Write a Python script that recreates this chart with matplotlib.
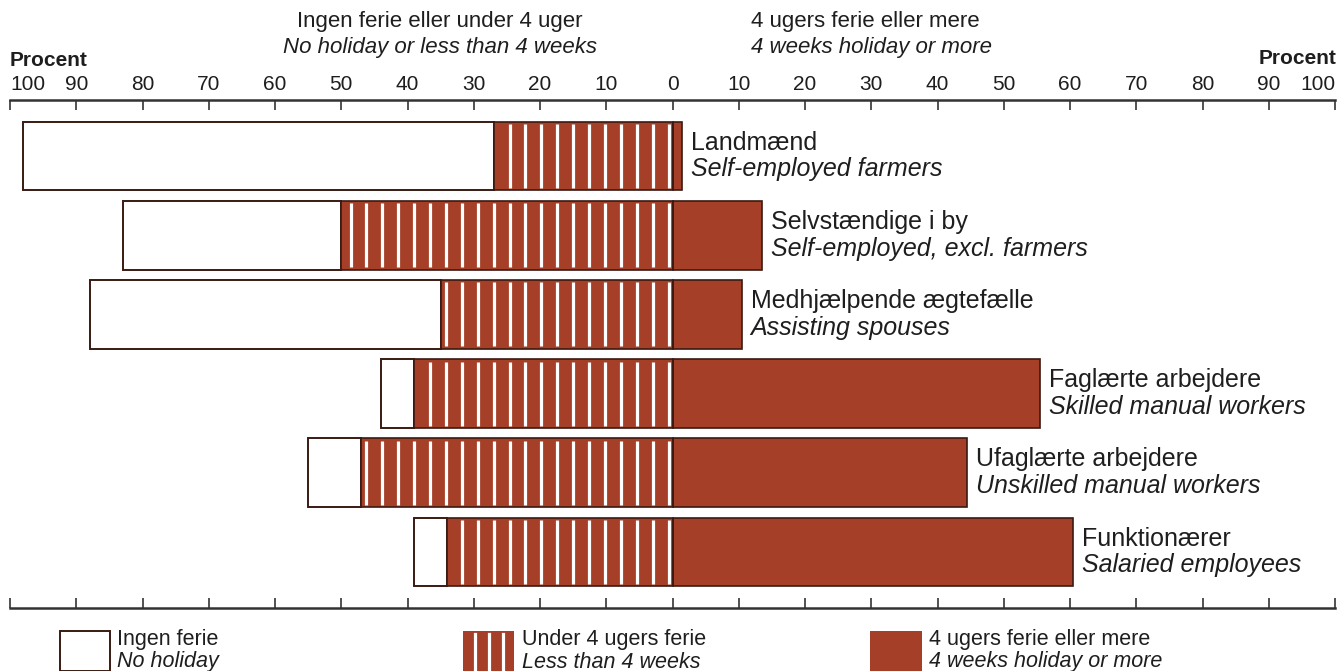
import numpy as np
import matplotlib.pyplot as plt
from matplotlib.patches import Rectangle

plt.rcParams['font.family'] = ['Liberation Sans', 'DejaVu Sans']

# Danish and English group names
groups_dk = ['Landmænd', 'Selvstændige i by', 'Medhjælpende ægtefælle',
             'Faglærte arbejdere', 'Ufaglærte arbejdere', 'Funktionærer']
groups_en = ['Self-employed farmers', 'Self-employed, excl. farmers', 'Assisting spouses',
             'Skilled manual workers', 'Unskilled manual workers', 'Salaried employees']

# Per cent of each group
no_holiday = [71, 33, 53, 5, 8, 5]
under_4_weeks = [27, 50, 35, 39, 47, 34]
four_weeks_plus = [1.5, 13.5, 10.5, 55.5, 44.5, 60.5]

tick_values = list(range(-100, 101, 10))

RED = '#a63f28'
EDGE = '#3a1a12'
TEXT = '#1e1e1e'

fig = plt.figure(figsize=(13.38, 6.71), dpi=100)
W, H = 1338, 671

# main chart area: -100 at px 10, +100 at px 1335, axis lines at px 100 and 608
ax = fig.add_axes([10 / W, 1 - 608 / H, 1325 / W, (608 - 100) / H])
ax.set_xlim(-100, 100)
ax.set_ylim(5.707, -0.707)

y = np.arange(len(groups_dk))
h = 0.87

ax.barh(y, -np.array(no_holiday), left=-np.array(under_4_weeks), height=h,
        color='white', edgecolor=EDGE, linewidth=1.4, zorder=2)
ax.barh(y, -np.array(under_4_weeks), left=0, height=h,
        color=RED, edgecolor=EDGE, linewidth=1.2, zorder=2)
ax.barh(y, four_weeks_plus, left=0, height=h,
        color=RED, edgecolor=EDGE, linewidth=1.2, zorder=2)

# white vertical stripes in the "under 4 weeks" part
for i, val in enumerate(under_4_weeks):
    xs = -0.6 - 2.4 * np.arange(0, 60)
    xs = xs[xs > -val + 0.6]
    ax.vlines(xs, i - h / 2 + 0.03, i + h / 2 - 0.03, color='white', lw=2.3, zorder=3)
    ax.vlines([0], i - h / 2, i + h / 2, color=EDGE, lw=1.2, zorder=4)

# group labels right of the bars
for i in range(len(groups_dk)):
    xt = four_weeks_plus[i] + 1.3
    ax.text(xt, i - 0.17, groups_dk[i], fontsize=18, color=TEXT, va='center', ha='left')
    ax.text(xt, i + 0.17, groups_en[i], fontsize=18, style='italic', color=TEXT,
            va='center', ha='left')

for s in ['left', 'right']:
    ax.spines[s].set_visible(False)
for s in ['top', 'bottom']:
    ax.spines[s].set_linewidth(1.8)
    ax.spines[s].set_color('#333333')

ax.set_yticks([])
ax.set_xticks(tick_values)
ax.set_xticklabels([str(abs(v)) for v in tick_values])
ax.tick_params(axis='x', which='both', direction='in', length=7, width=1.2,
               colors='#333333', top=True, bottom=True, labeltop=True,
               labelbottom=False, labelsize=15, pad=4, labelcolor=TEXT)
# keep the end labels inside the frame
top_labels = [t.label2 for t in ax.xaxis.get_major_ticks()]
top_labels[0].set_horizontalalignment('left')
top_labels[-1].set_horizontalalignment('right')

# overlay in pixel coordinates for headings and legend
ov = fig.add_axes([0, 0, 1, 1], zorder=-1)
ov.set_xlim(0, W)
ov.set_ylim(H, 0)
ov.axis('off')

ov.text(440, 22, 'Ingen ferie eller under 4 uger', fontsize=16, ha='center', va='center', color=TEXT)
ov.text(440, 47, 'No holiday or less than 4 weeks', fontsize=16, style='italic',
        ha='center', va='center', color=TEXT)
ov.text(751, 22, '4 ugers ferie eller mere', fontsize=16, ha='left', va='center', color=TEXT)
ov.text(751, 47, '4 weeks holiday or more', fontsize=16, style='italic',
        ha='left', va='center', color=TEXT)
ov.text(10, 61, 'Procent', fontsize=15, fontweight='bold', ha='left', va='center', color=TEXT)
ov.text(1336, 59, 'Procent', fontsize=15, fontweight='bold', ha='right', va='center', color=TEXT)
ov.text(10, 575, 'Kilde: Tabel 9.11', fontsize=12, ha='left', va='center', color=TEXT)

# legend
ov.add_patch(Rectangle((60, 631), 50, 40, facecolor='white', edgecolor=EDGE, lw=1.4))
ov.add_patch(Rectangle((463, 631), 51, 40, facecolor=RED, edgecolor='none'))
for sx in [475, 489, 503]:
    ov.plot([sx, sx], [634, 671], color='white', lw=2.3)
ov.add_patch(Rectangle((870, 631), 52, 40, facecolor=RED, edgecolor='none'))

legend_items = [(117, 'Ingen ferie', 'No holiday'),
                (522, 'Under 4 ugers ferie', 'Less than 4 weeks'),
                (929, '4 ugers ferie eller mere', '4 weeks holiday or more')]
for lx, dk, en in legend_items:
    ov.text(lx, 639, dk, fontsize=15.5, ha='left', va='center', color=TEXT)
    ov.text(lx, 662, en, fontsize=15.5, style='italic', ha='left', va='center', color=TEXT)

fig.savefig('out.png', dpi=100)
